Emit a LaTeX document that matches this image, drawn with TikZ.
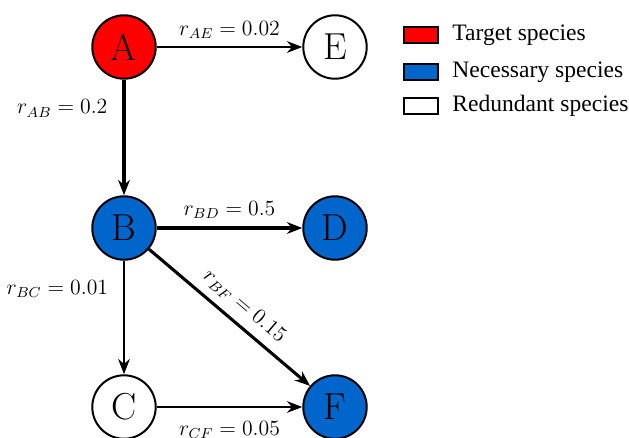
\documentclass[tikz,border=0pt]{standalone}
\usepackage{amsmath}
\usepackage{fontspec}
\usepackage{tikz}
\usetikzlibrary{arrows.meta}
\tikzset{>={Stealth[length=8.5pt, width=6.5pt]}}
\newfontfamily\legfont{Liberation Serif}
\definecolor{necblue}{RGB}{0,102,204}
\def\rescale{0.0194}

\tikzset{
    species/.style = {circle, draw=black, line width=1.1pt, minimum size=35pt, inner sep=0pt, font=\huge},
    target/.style = {species, fill=red},
    necessary/.style = {species, fill=necblue},
    redundant/.style = {species, fill=white},
    strong/.style = {->, line width=1.7pt},
    weak/.style = {->, line width=0.9pt},
    rate/.style = {font=\large},
    legbox/.style = {draw=black, line width=1.3pt, minimum width=19pt, minimum height=9pt, inner sep=0pt},
}

\begin{document}
\begin{tikzpicture}[x=\rescale cm, y=-\rescale cm]

    \useasboundingbox (0,0) rectangle (629,437);

    % species
    \node[target]    (A) at (124,47)  {A};
    \node[redundant] (E) at (335,47)  {E};
    \node[necessary] (B) at (124,228) {B};
    \node[necessary] (D) at (335,228) {D};
    \node[redundant] (C) at (124,407) {C};
    \node[necessary] (F) at (335,407) {F};

    % reactions
    \draw[weak]   (A) -- (E) node[rate, midway, above=1pt] {$r_{AE} = 0.02$};
    \draw[strong] (A) -- (B) node[rate, pos=0.25, left=5pt] {$r_{AB} = 0.2$};
    \draw[strong] (B) -- (D) node[rate, midway, above=1pt] {$r_{BD} = 0.5$};
    \draw[weak]   (B) -- (C) node[rate, pos=0.25, left=5pt] {$r_{BC} = 0.01$};
    \draw[strong] (B) -- (F) node[rate, pos=0.52, above=1pt, sloped] {$r_{BF} = 0.15$};
    \draw[weak]   (C) -- (F) node[rate, midway, below=4pt] {$r_{CF} = 0.05$};

    % legend
    \foreach \col/\txt/\yy in {red/Target species/35, necblue/Necessary species/72, white/Redundant species/106}{
        \node[legbox, fill=\col] (leg\yy) at (421,\yy) {};
        \node[anchor=west, font=\legfont\fontsize{13}{15}\selectfont, inner sep=0pt] (txt\yy) at ([xshift=7pt]leg\yy.east) {\txt};
    }

\end{tikzpicture}
\end{document}
